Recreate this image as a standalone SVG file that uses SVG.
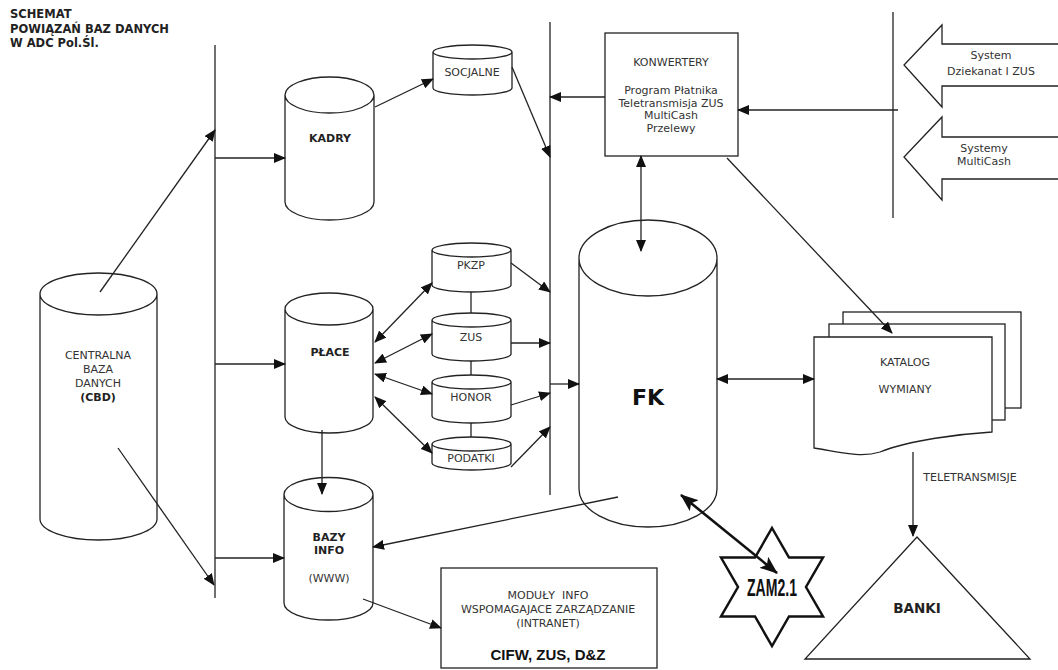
<svg xmlns="http://www.w3.org/2000/svg" width="1058" height="670" viewBox="0 0 1058 670">
<style>
.s{fill:#fff;stroke:#222;stroke-width:1.3}
.l{fill:none;stroke:#222;stroke-width:1.3}
.t{font-family:"DejaVu Sans",Verdana,sans-serif;font-size:11px;fill:#333;text-anchor:middle}
.b{font-family:"DejaVu Sans",Verdana,sans-serif;font-size:11px;font-weight:bold;fill:#222;text-anchor:middle}
.title{font-family:"DejaVu Sans",Verdana,sans-serif;font-size:11.5px;font-weight:bold;fill:#222}
</style>
<defs>
<marker id="a" markerUnits="userSpaceOnUse" markerWidth="12" markerHeight="10" refX="11" refY="5" orient="auto-start-reverse"><path d="M0,0 L12,5 L0,10 z" fill="#111"/></marker>
<marker id="A" markerUnits="userSpaceOnUse" markerWidth="18" markerHeight="14" refX="17" refY="7" orient="auto-start-reverse"><path d="M0,0 L18,7 L0,14 L4,7 z" fill="#111"/></marker>
</defs>
<rect width="1058" height="670" fill="#fff"/>
<g id="title">
<text class="title" x="10" y="18">SCHEMAT</text>
<text class="title" x="10" y="32.5">POWIĄZAŃ BAZ DANYCH</text>
<text class="title" x="10" y="46.5">W ADC Pol.Śl.</text>
</g>
<g id="buses">
<line class="l" x1="215" y1="45" x2="215" y2="598"/>
<line class="l" x1="550" y1="22" x2="550" y2="495"/>
<line class="l" x1="893" y1="12" x2="893" y2="218"/>
</g>
<g id="cbd">
<path class="s" d="M40,294 A58.5,21 0 0 1 157,294 A58.5,21 0 0 1 40,294 M40,294 L40,519 A58.5,21 0 0 0 157,519 L157,294"/>
<text class="t" x="98" y="359">CENTRALNA</text>
<text class="t" x="98" y="373">BAZA</text>
<text class="t" x="98" y="387">DANYCH</text>
<text class="b" x="98" y="401">(CBD)</text>
</g>
<g id="kadry">
<path class="s" d="M285,95 A44.5,18 0 0 1 374,95 A44.5,18 0 0 1 285,95 M285,95 L285,202 A44.5,18 0 0 0 374,202 L374,95"/>
<text class="b" x="330" y="142">KADRY</text>
</g>
<g id="socjalne">
<path class="s" d="M433,52 A39.5,7 0 0 1 512,52 A39.5,7 0 0 1 433,52 M433,52 L433,88 A39.5,7 0 0 0 512,88 L512,52"/>
<text class="t" x="472" y="76">SOCJALNE</text>
</g>
<g id="place">
<path class="s" d="M285,309 A44,16 0 0 1 373,309 A44,16 0 0 1 285,309 M285,309 L285,417 A44,16 0 0 0 373,417 L373,309"/>
<text class="b" x="330" y="356">PŁACE</text>
</g>
<g id="pkzp">
<path class="s" d="M432,250 A39.5,7 0 0 1 511,250 A39.5,7 0 0 1 432,250 M432,250 L432,285 A39.5,7 0 0 0 511,285 L511,250"/>
<text class="t" x="471" y="269">PKZP</text>
</g>
<g id="zus">
<path class="s" d="M432,320 A39.5,7 0 0 1 511,320 A39.5,7 0 0 1 432,320 M432,320 L432,354 A39.5,7 0 0 0 511,354 L511,320"/>
<text class="t" x="471" y="341">ZUS</text>
</g>
<g id="honor">
<path class="s" d="M432,382 A39.5,7 0 0 1 511,382 A39.5,7 0 0 1 432,382 M432,382 L432,416 A39.5,7 0 0 0 511,416 L511,382"/>
<text class="t" x="471" y="401">HONOR</text>
</g>
<g id="podatki">
<path class="s" d="M432,444 A39.5,7 0 0 1 511,444 A39.5,7 0 0 1 432,444 M432,444 L432,463 A39.5,7 0 0 0 511,463 L511,444"/>
<text class="t" x="471" y="462">PODATKI</text>
</g>
<g id="bazyinfo">
<path class="s" d="M284,494.5 A44.5,17 0 0 1 373,494.5 A44.5,17 0 0 1 284,494.5 M284,494.5 L284,603 A44.5,17 0 0 0 373,603 L373,494.5"/>
<text class="b" x="329" y="541">BAZY</text>
<text class="b" x="329" y="554">INFO</text>
<text class="t" x="329" y="582">(WWW)</text>
</g>
<g id="fk">
<path class="s" d="M579,258 A69,38 0 0 1 717,258 A69,38 0 0 1 579,258 M579,258 L579,489 A69,38 0 0 0 717,489 L717,258"/>
<text class="b" x="648" y="405" style="font-size:22px;fill:#111">FK</text>
</g>
<g id="konwertery">
<rect class="s" x="605" y="33" width="133" height="123"/>
<text class="t" x="671" y="66">KONWERTERY</text>
<text class="t" x="671" y="94">Program Płatnika</text>
<text class="t" x="671" y="106.5">Teletransmisja ZUS</text>
<text class="t" x="671" y="119">MultiCash</text>
<text class="t" x="671" y="131.5">Przelewy</text>
</g>
<g id="dziekanat">
<path class="s" d="M1060,44 L942,44 L942,25 L904,65 L942,107 L942,86 L1060,86"/>
<text class="t" x="991" y="59">System</text>
<text class="t" x="991" y="75">Dziekanat I ZUS</text>
</g>
<g id="multicash">
<path class="s" d="M1060,137 L942,137 L942,117 L904,157 L942,200 L942,179 L1060,179"/>
<text class="t" x="984" y="152">Systemy</text>
<text class="t" x="984" y="165">MultiCash</text>
</g>
<g id="katalog">
<rect class="s" x="843" y="312" width="178" height="96"/>
<rect class="s" x="829" y="324" width="176" height="96"/>
<path class="s" d="M814,337 L992,337 L992,432 C960,434 910,440 880,452 C860,458 840,452 814,448 Z"/>
<text class="t" x="905" y="366">KATALOG</text>
<text class="t" x="905" y="393">WYMIANY</text>
</g>
<g id="banki">
<path class="s" d="M917,537 L1030,659 L805,659 Z"/>
<text class="b" x="917" y="613" style="font-size:13.5px">BANKI</text>
</g>
<g id="zam">
<path class="s" style="stroke-width:2.5;stroke:#111" d="M772,528 L789,557.5 L823,557.5 L806,587 L823,616.5 L789,616.5 L772,646 L755,616.5 L721,616.5 L738,587 L721,557.5 L755,557.5 Z"/>
<text x="772" y="596" text-anchor="middle" textLength="50" lengthAdjust="spacingAndGlyphs" style="font-family:'Liberation Sans',Arial,sans-serif;font-size:23px;font-weight:bold;fill:#111">ZAM2.1</text>
</g>
<g id="moduly">
<rect class="s" x="441" y="568" width="216" height="100"/>
<text class="t" x="548" y="599">MODUŁY&#160; INFO</text>
<text class="t" x="548" y="613">WSPOMAGAJACE ZARZĄDZANIE</text>
<text class="t" x="548" y="627">(INTRANET)</text>
<text x="548" y="660" text-anchor="middle" style="font-family:'Liberation Sans',Arial,sans-serif;font-size:15px;font-weight:bold;fill:#111">CIFW, ZUS, D&amp;Z</text>
</g>
<g id="connectors">
<line class="l" x1="100" y1="292" x2="215" y2="130" marker-end="url(#a)"/>
<line class="l" x1="118" y1="448" x2="214" y2="585" marker-end="url(#a)"/>
<line class="l" x1="215" y1="158" x2="285" y2="158" marker-end="url(#a)"/>
<line class="l" x1="215" y1="364" x2="285" y2="364" marker-end="url(#a)"/>
<line class="l" x1="215" y1="558" x2="284" y2="558" marker-end="url(#a)"/>
<line class="l" x1="375" y1="107" x2="433" y2="79" marker-end="url(#a)"/>
<line class="l" x1="512" y1="67" x2="550" y2="157" marker-end="url(#a)"/>
<line class="l" x1="605" y1="97" x2="550" y2="97" marker-end="url(#a)"/>
<line class="l" x1="898" y1="110" x2="738" y2="110" marker-end="url(#a)"/>
<line class="l" x1="641" y1="156" x2="641" y2="251" marker-start="url(#a)" marker-end="url(#a)"/>
<line class="l" x1="727" y1="158" x2="892" y2="333" marker-end="url(#a)"/>
<line class="l" x1="717" y1="379" x2="814" y2="379" marker-start="url(#a)" marker-end="url(#a)"/>
<line class="l" x1="913" y1="452" x2="913" y2="536" marker-end="url(#a)"/>
<line class="l" x1="375" y1="342" x2="432" y2="283" marker-start="url(#a)" marker-end="url(#a)"/>
<line class="l" x1="375" y1="363" x2="432" y2="334" marker-start="url(#a)" marker-end="url(#a)"/>
<line class="l" x1="375" y1="374" x2="432" y2="394" marker-start="url(#a)" marker-end="url(#a)"/>
<line class="l" x1="375" y1="397" x2="432" y2="453" marker-start="url(#a)" marker-end="url(#a)"/>
<line class="l" x1="471" y1="292" x2="471" y2="313"/>
<line class="l" x1="471" y1="361" x2="471" y2="375"/>
<line class="l" x1="471" y1="423" x2="471" y2="437"/>
<line class="l" x1="511" y1="263" x2="550" y2="292" marker-end="url(#a)"/>
<line class="l" x1="511" y1="343" x2="550" y2="343" marker-end="url(#a)"/>
<line class="l" x1="511" y1="405" x2="550" y2="393" marker-end="url(#a)"/>
<line class="l" x1="511" y1="467" x2="550" y2="427" marker-end="url(#a)"/>
<line class="l" x1="550" y1="384" x2="579" y2="384" marker-end="url(#a)"/>
<line class="l" x1="322" y1="430" x2="322" y2="494" marker-end="url(#a)"/>
<line class="l" x1="618" y1="497" x2="373" y2="547" marker-end="url(#a)"/>
<line class="l" x1="363" y1="599" x2="441" y2="628" marker-end="url(#a)"/>
<line class="l" style="stroke-width:2.6;stroke:#111" x1="681" y1="495" x2="777" y2="573" marker-start="url(#A)" marker-end="url(#A)"/>
</g>
<text class="t" x="970" y="481">TELETRANSMISJE</text>
</svg>
